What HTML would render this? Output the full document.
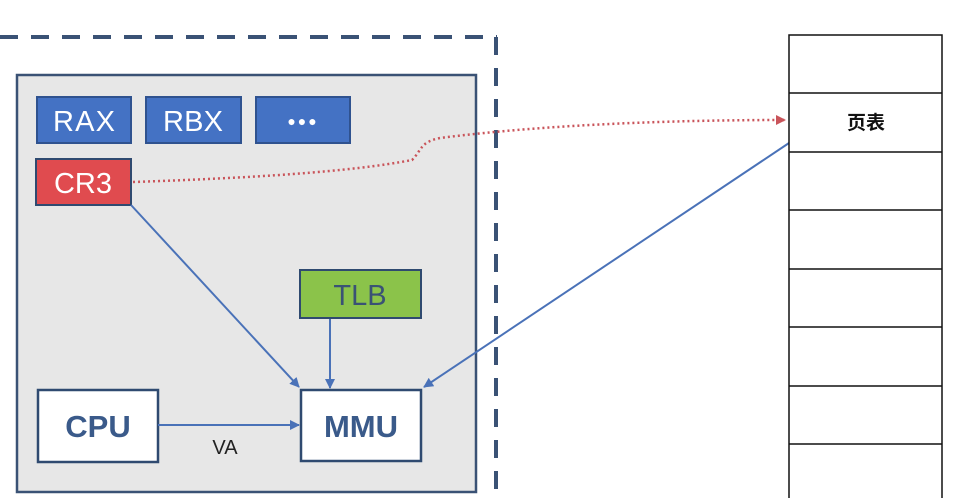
<!DOCTYPE html>
<html><head><meta charset="utf-8"><style>
body{margin:0;background:#fff;width:969px;height:498px;overflow:hidden}
svg{display:block}
text{font-family:"Liberation Sans","Noto Sans CJK SC",sans-serif}
</style></head><body>
<svg width="969" height="498" viewBox="0 0 969 498">
<defs>
<marker id="ab" markerWidth="10" markerHeight="10" refX="9" refY="5" orient="auto" markerUnits="userSpaceOnUse"><path d="M0,0 L10,5 L0,10 z" fill="#4a72b8"/></marker>
<marker id="ar" markerWidth="10" markerHeight="10" refX="9" refY="5" orient="auto" markerUnits="userSpaceOnUse"><path d="M0,0 L10,5 L0,10 z" fill="#c9545a"/></marker>
</defs>
<g>
<line x1="0" y1="37" x2="497" y2="37" stroke="#3a5275" stroke-width="4" stroke-dasharray="18 13"/>
<line x1="496" y1="37" x2="496" y2="498" stroke="#3a5275" stroke-width="4" stroke-dasharray="18 13"/>
</g>
<rect x="17" y="75" width="459" height="417" fill="#e7e7e7" stroke="#3a5275" stroke-width="2.5"/>
<g><rect x="37" y="97" width="94" height="46" fill="#4472c4" stroke="#2f528f" stroke-width="2"/><text x="84" y="131" font-size="29" fill="#fff" text-anchor="middle" textLength="62">RAX</text></g>
<g><rect x="146" y="97" width="95" height="46" fill="#4472c4" stroke="#2f528f" stroke-width="2"/><text x="193" y="131" font-size="29" fill="#fff" text-anchor="middle" textLength="60">RBX</text></g>
<g><rect x="256" y="97" width="94" height="46" fill="#4472c4" stroke="#2f528f" stroke-width="2"/><text x="303" y="126" font-size="14" fill="#fff" text-anchor="middle" letter-spacing="2">●●●</text></g>
<g><rect x="36" y="159" width="95" height="46" fill="#e04b4f" stroke="#2f4a70" stroke-width="2"/><text x="83" y="193" font-size="29" fill="#fff" text-anchor="middle" textLength="58">CR3</text></g>
<g><rect x="300" y="270" width="121" height="48" fill="#8bc34a" stroke="#2f4a70" stroke-width="2"/><text x="360" y="305" font-size="29" fill="#3a5275" text-anchor="middle">TLB</text></g>
<g><rect x="38" y="390" width="120" height="72" fill="#fff" stroke="#2f4a70" stroke-width="2.5"/><text x="98" y="437" font-size="31" font-weight="bold" fill="#3a5a8a" text-anchor="middle">CPU</text></g>
<g><rect x="301" y="390" width="120" height="71" fill="#fff" stroke="#2f4a70" stroke-width="2.5"/><text x="361" y="437" font-size="31" font-weight="bold" fill="#3a5a8a" text-anchor="middle">MMU</text></g>
<g stroke="#4a72b8" stroke-width="2" fill="none">
<line x1="131" y1="205" x2="299" y2="387" marker-end="url(#ab)"/>
<line x1="330" y1="319" x2="330" y2="388" marker-end="url(#ab)"/>
<line x1="158" y1="425" x2="299" y2="425" marker-end="url(#ab)"/>
<line x1="789" y1="143" x2="424" y2="387" marker-end="url(#ab)"/>
</g>
<text x="225" y="454" font-size="20" fill="#222" text-anchor="middle">VA</text>
<path d="M133,182 C250,178 350,172 412,160 C422,150 420,142 440,138 C550,124 680,120 785,120" fill="none" stroke="#c9545a" stroke-width="2.5" stroke-dasharray="2 3" marker-end="url(#ar)"/>
<g fill="#fff" stroke="#111" stroke-width="1.5">
<rect x="789" y="35" width="153" height="470"/>
<line x1="789" y1="93" x2="942" y2="93"/><line x1="789" y1="152" x2="942" y2="152"/>
<line x1="789" y1="210" x2="942" y2="210"/><line x1="789" y1="269" x2="942" y2="269"/>
<line x1="789" y1="327" x2="942" y2="327"/><line x1="789" y1="386" x2="942" y2="386"/>
<line x1="789" y1="444" x2="942" y2="444"/>
</g>
<text x="866" y="129" font-size="19" font-weight="bold" fill="#111" text-anchor="middle">页表</text>
</svg>
</body></html>
